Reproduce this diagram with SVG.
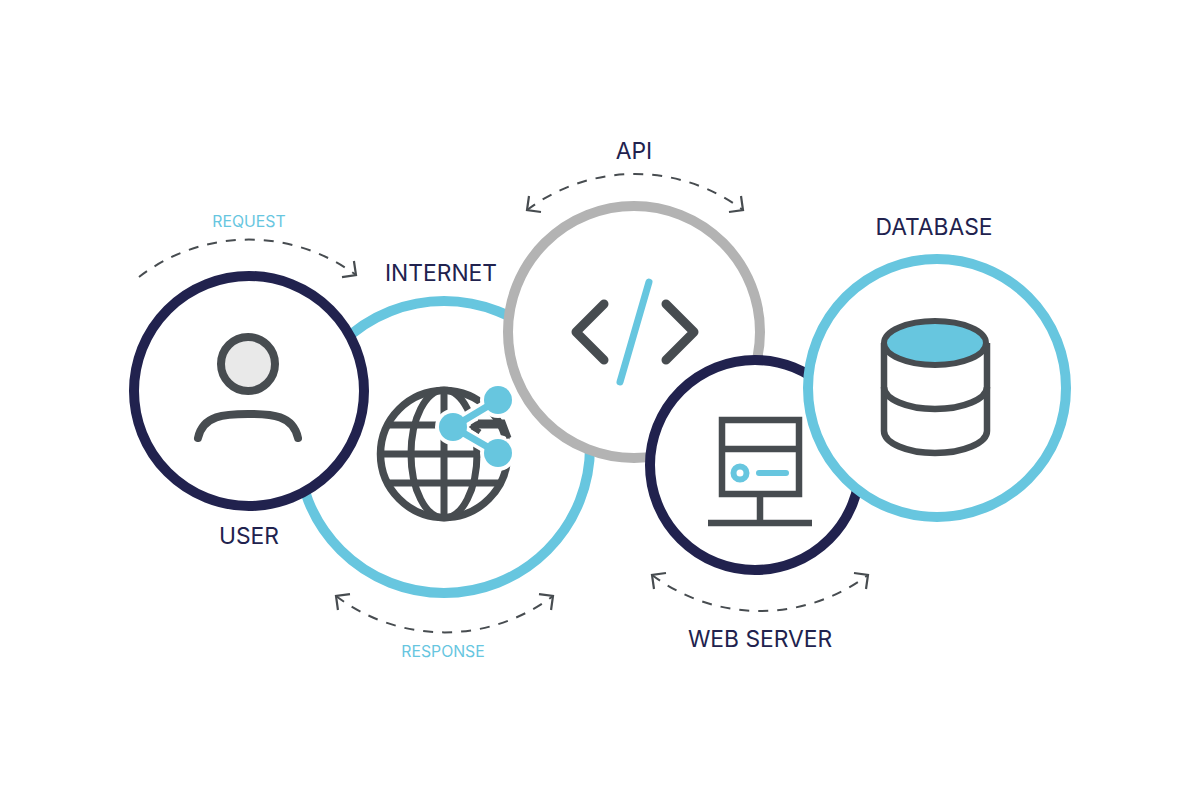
<svg xmlns="http://www.w3.org/2000/svg" width="1200" height="800" viewBox="0 0 1200 800">
<defs>
<marker id="arrow" markerUnits="userSpaceOnUse" markerWidth="24" markerHeight="24" refX="13" refY="12" orient="auto-start-reverse" viewBox="0 0 24 24"><path d="M3 2L13 12L3 22" fill="none" stroke="#474c50" stroke-width="2.2"/></marker>
</defs>
<style>
.ring{fill:#fff;stroke-width:10}
.navy{stroke:#21224e}
.teal{stroke:#67c6df}
.grey{stroke:#b3b3b3}
.ink{fill:none;stroke:#474c50;stroke-width:6.5}
.link{fill:none;stroke:#474c50;stroke-width:2;stroke-dasharray:10 9}
.label{font-family:"Inter","Liberation Sans",sans-serif;font-size:22.8px;fill:#21224e;text-anchor:middle}
.small{font-family:"Inter","Liberation Sans",sans-serif;font-size:15.8px;fill:#67c6df;text-anchor:middle}
</style>
<rect width="1200" height="800" fill="#fff"/>
<g id="internet">
<circle class="ring teal" cx="444" cy="447" r="146"/>
<g class="ink">
<circle cx="444" cy="454" r="63.5" stroke-width="7.5"/>
<ellipse cx="444" cy="454" rx="33" ry="64" stroke-width="7"/>
<path d="M444 390V518M386 425H502M380 454H508M386 483H502" stroke-width="7"/>
</g>
<path d="M453 427L498 400M453 427L498 453" fill="none" stroke="#fff" stroke-width="14"/>
<circle cx="453" cy="427" r="18" fill="#fff"/>
<circle cx="498" cy="400" r="18" fill="#fff"/>
<circle cx="498" cy="453" r="18" fill="#fff"/>
<path d="M480 422L473 427L480 432M478 422H503L509 438" fill="none" stroke="#474c50" stroke-width="5"/>
<path d="M453 427L498 400M453 427L498 453" fill="none" stroke="#67c6df" stroke-width="7"/>
<circle cx="453" cy="427" r="14" fill="#67c6df"/>
<circle cx="498" cy="400" r="14" fill="#67c6df"/>
<circle cx="498" cy="453" r="14" fill="#67c6df"/>
<text class="label" x="441" y="281">INTERNET</text>
</g>
<g id="user">
<circle class="ring navy" cx="249" cy="391" r="115"/>
<circle cx="248" cy="364" r="27" fill="#e9e9e9" stroke="#474c50" stroke-width="8"/>
<path d="M198 438C203 415 225 414 248 414C272 414 293 415 298 438" fill="none" stroke="#474c50" stroke-width="8" stroke-linecap="round"/>
<text class="label" x="249" y="544">USER</text>
</g>
<g id="api">
<circle class="ring grey" cx="634" cy="332" r="126"/>
<path d="M604 304L576 332L604 360M666 304L694 332L666 360" fill="none" stroke="#474c50" stroke-width="9" stroke-linecap="round" stroke-linejoin="round"/>
<path d="M649 282L620 382" fill="none" stroke="#67c6df" stroke-width="7" stroke-linecap="round"/>
<text class="label" x="634" y="159">API</text>
</g>
<g id="webserver">
<circle class="ring navy" cx="755" cy="465" r="105"/>
<g class="ink">
<rect x="722" y="420" width="77" height="74"/>
<path d="M722 449H799M760 494V523M708 523H812"/>
</g>
<circle cx="740" cy="473" r="6.5" fill="none" stroke="#67c6df" stroke-width="6"/>
<path d="M759 473H786" fill="none" stroke="#67c6df" stroke-width="6" stroke-linecap="round"/>
<text class="label" x="760" y="647">WEB SERVER</text>
</g>
<g id="database">
<circle class="ring teal" cx="937" cy="388" r="129"/>
<g class="ink">
<path d="M884 343V431C884 443 907 453 935 453C963 453 987 443 987 431V343"/>
<path d="M884 387C884 399 907 409 935 409C963 409 987 399 987 387"/>
</g>
<ellipse cx="935" cy="343" rx="51" ry="22" fill="#67c6df" stroke="#474c50" stroke-width="6"/>
<text class="label" x="934" y="235">DATABASE</text>
</g>
<g id="connectors">
<path class="link" d="M139 277A180 180 0 0 1 356 275" marker-end="url(#arrow)"/>
<path class="link" d="M527 210A180 180 0 0 1 743 210" marker-start="url(#arrow)" marker-end="url(#arrow)"/>
<path class="link" d="M336 596A180 180 0 0 0 553 596" marker-start="url(#arrow)" marker-end="url(#arrow)"/>
<path class="link" d="M652 575A180 180 0 0 0 868 575" marker-start="url(#arrow)" marker-end="url(#arrow)"/>
</g>
<text class="small" x="249" y="227">REQUEST</text>
<text class="small" x="443" y="657">RESPONSE</text>
</svg>
